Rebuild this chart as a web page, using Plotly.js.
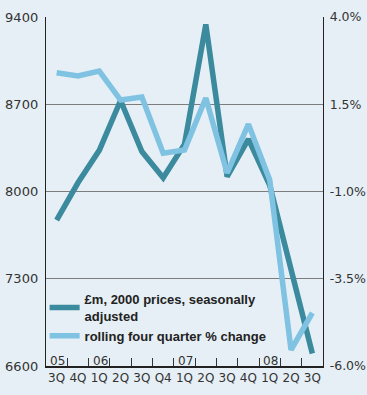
<!DOCTYPE html>
<html>
<head>
<meta charset="utf-8">
<script src="https://cdn.plot.ly/plotly-3.0.1.min.js"></script>
<style>
html,body{margin:0;padding:0;background:#e6eff5;}
#chart{width:367px;height:395px;}
</style>
</head>
<body>
<div id="chart"></div>
<script>
// Data
var categories = ['3Q05','4Q05','1Q06','2Q06','3Q06','Q406','1Q07','2Q07','3Q07','4Q07','1Q08','2Q08','3Q08'];
var quarterLabels = ['3Q','4Q','1Q','2Q','3Q','Q4','1Q','2Q','3Q','4Q','1Q','2Q','3Q'];
var yearLabels = ['05','06','07','08'];
var yearStarts = ['3Q05','1Q06','1Q07','1Q08'];
var pricesGBPm = [7770, 8070, 8330, 8730, 8320, 8110, 8380, 9340, 8120, 8420, 8050, 7390, 6700];
var rollingPct = [2.40, 2.31, 2.45, 1.62, 1.71, 0.10, 0.19, 1.68, -0.47, 0.93, -0.67, -5.54, -4.48];
var leftTicks = [6600, 7300, 8000, 8700, 9400];
var rightTicks = [-6, -3.5, -1, 1.5, 4];
var rightTickText = ['-6.0%', '-3.5%', '-1.0%', '1.5%', '4.0%'];

var darkColor = '#3b8a9d';
var lightColor = '#7fc2e2';
var txt = '#333333';

var traces = [
  {
    x: categories, y: rollingPct, yaxis: 'y2', type: 'scatter', mode: 'lines',
    name: 'rolling four quarter % change',
    line: {color: lightColor, width: 5.5},
    legendrank: 2, hoverinfo: 'none'
  },
  {
    x: categories, y: pricesGBPm, yaxis: 'y', type: 'scatter', mode: 'lines',
    name: '£m, 2000 prices, seasonally<br>adjusted',
    line: {color: darkColor, width: 5.5},
    legendrank: 1, hoverinfo: 'none'
  }
];

var annotations = yearLabels.map(function(t, i){
  return {x: yearStarts[i], xref: 'x', y: 0, yref: 'paper', yanchor: 'bottom', yshift: -4, xshift: 1,
    text: t, showarrow: false, font: {family: 'DejaVu Sans', size: 12, color: txt}};
});

var layout = {
  width: 367, height: 395,
  margin: {l: 46, r: 44, t: 17, b: 29, pad: 0},
  paper_bgcolor: '#e6eff5', plot_bgcolor: '#e6eff5',
  showlegend: true,
  legend: {x: -0.005, xanchor: 'left', y: 0.235, yanchor: 'top', bgcolor: 'rgba(0,0,0,0)',
    font: {family: 'Liberation Sans', size: 13, color: '#222', weight: 'bold'},
    tracegroupgap: 0, itemwidth: 30},
  xaxis: {
    type: 'category', categoryorder: 'array', categoryarray: categories,
    range: [-0.5, 12.5], tickmode: 'array', tickvals: categories, ticktext: quarterLabels,
    tickson: 'boundaries', ticks: 'inside', ticklen: 8, tickwidth: 1, tickcolor: '#333',
    tickangle: 0,
    showgrid: false, zeroline: false, showline: true, linecolor: '#222', linewidth: 1.5,
    tickfont: {family: 'DejaVu Sans', size: 12, color: txt}
  },
  yaxis: {
    range: [6600, 9400], tickmode: 'array', tickvals: leftTicks, ticks: '',
    showgrid: true, gridcolor: '#7d7d7d', gridwidth: 1.2, zeroline: false,
    showline: true, linecolor: '#222', linewidth: 1.2,
    tickfont: {family: 'DejaVu Sans', size: 13, color: txt}, ticklabelstandoff: 4
  },
  yaxis2: {
    overlaying: 'y', side: 'right', anchor: 'x', range: [-6, 4], tickmode: 'array',
    tickvals: rightTicks, ticktext: rightTickText, ticks: '', showgrid: false, zeroline: false,
    showline: true, linecolor: '#222', linewidth: 1.2,
    tickfont: {family: 'DejaVu Sans', size: 12.5, color: txt}, ticklabelstandoff: 3
  },
  shapes: [
    {type: 'line', xref: 'paper', x0: 0, x1: 1, yref: 'y', y0: 8000, y1: 8000,
     line: {color: '#222', width: 1.2}, layer: 'below'}
  ],
  annotations: annotations
};

Plotly.newPlot('chart', traces, layout, {displayModeBar: false, staticPlot: true});
</script>
</body>
</html>
